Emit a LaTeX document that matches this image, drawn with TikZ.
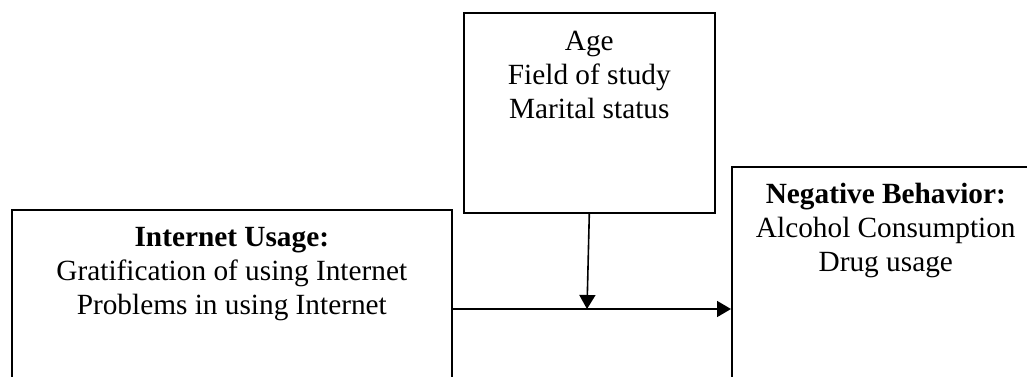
\documentclass[tikz,border=0pt]{standalone}
\usepackage{fontspec}
\setmainfont{Liberation Serif}
\usetikzlibrary{arrows.meta}
\begin{document}
\begin{tikzpicture}[
  x=0.5pt, y=-0.5pt,
  b/.style={draw, line width=0.8pt, inner sep=0pt, anchor=north west,
    font=\fontsize{14.65}{17}\selectfont},
  e/.style={line width=0.8pt, -{Triangle[length=7pt,width=8pt]}}
]
\clip (0,0) rectangle (1027,376);
\node[b] (factors) at (463,12) {\parbox[t][100pt][t]{125.5pt}{\centering\vspace*{9pt}Age\\Field of study\\Marital status}};
\node[b] (usage) at (11,209) {\parbox[t][110pt][t]{220pt}{\centering\vspace*{9pt}\textbf{Internet Usage:}\\Gratification of using Internet\\Problems in using Internet}};
\node[b] (behav) at (731,166) {\parbox[t][130pt][t]{154pt}{\centering\vspace*{8pt}\textbf{Negative Behavior:}\\Alcohol Consumption\\Drug usage}};
\coordinate (mid) at (587,309);
\draw[e] (factors.south) -- (mid);
\draw[e] (mid -| usage.east) -- (mid -| behav.west);
\end{tikzpicture}
\end{document}
